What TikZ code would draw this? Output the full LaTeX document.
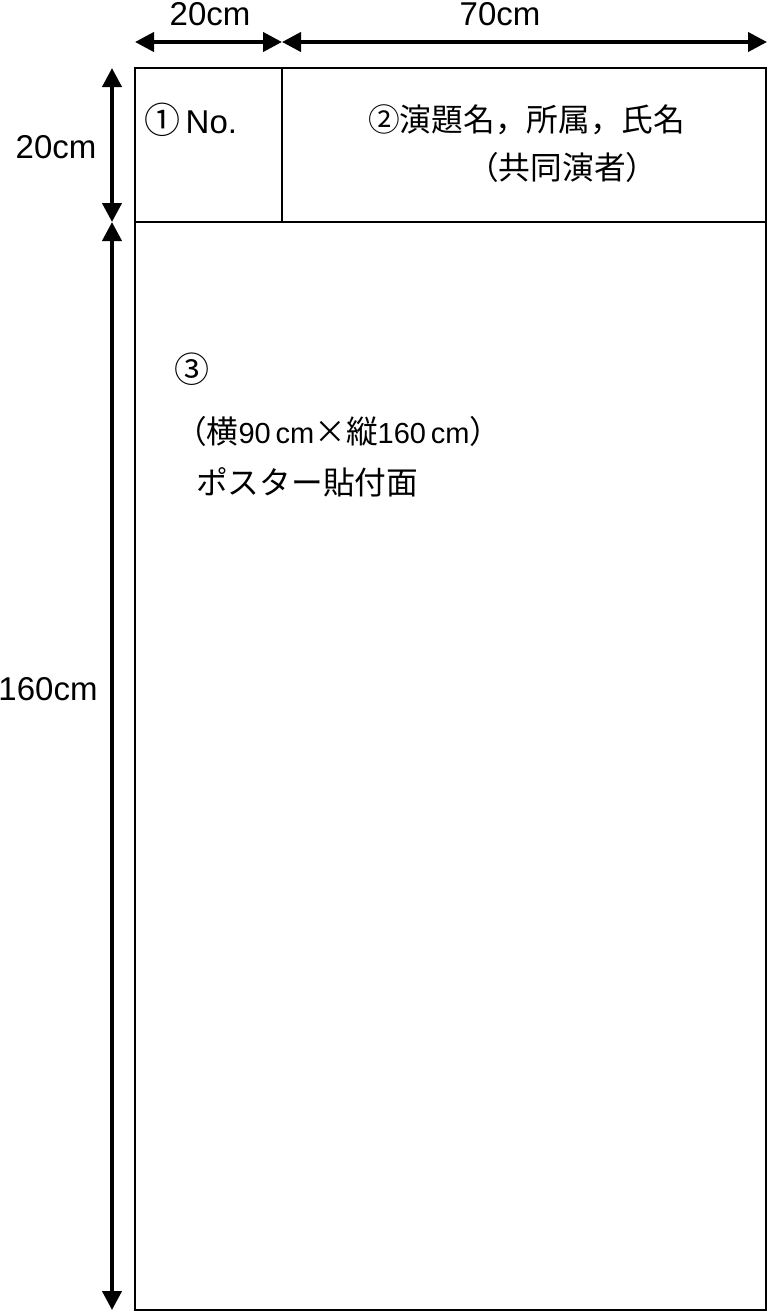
\documentclass[tikz,border=0pt]{standalone}
\usepackage{fontspec}
\setmainfont{Liberation Sans}
\newfontfamily\jp{Noto Sans CJK JP}
\newfontfamily\lat{Liberation Sans}
\usetikzlibrary{arrows.meta}
\begin{document}
\begin{tikzpicture}[x=1pt,y=-1pt,
  dim/.style={line width=4pt,{Triangle[length=19pt,width=19pt]}-{Triangle[length=19pt,width=19pt]}},
  frame/.style={line width=1.3pt},
  lbl/.style={font=\fontsize{33}{38}\selectfont, inner sep=0pt},
  jlbl/.style={font=\fontsize{31.7}{38}\selectfont\jp, inner sep=0pt}]
\useasboundingbox (0,0) rectangle (768,1312);
% frame
\coordinate (TL) at (135,68);
\coordinate (TM) at (282,68);
\coordinate (TR) at (766,68);
\coordinate (ML) at (135,222);
\coordinate (MM) at (282,222);
\coordinate (MR) at (766,222);
\coordinate (BR) at (766,1310);
\draw[frame] (TL) rectangle (BR);
\draw[frame] (ML) -- (MR);
\draw[frame] (TM) -- (MM);
% dimension lines
\coordinate (h1) at (135,42);
\coordinate (h2) at (282,42);
\coordinate (h3) at (767,42);
\coordinate (v1) at (112,68);
\coordinate (v2) at (112,222);
\coordinate (v3) at (112,1310);
\draw[dim] (h1) -- (h2);
\draw[dim] (h2) -- (h3);
\draw[dim] (v1) -- (v2);
\draw[dim] (v2) -- (v3);
% dimension labels
\node[lbl, anchor=base] (d20a) at (210,25) {20cm};
\node[lbl, anchor=base] (d70) at (500,25) {70cm};
\node[lbl, anchor=base] (d20b) at (56,158) {20cm};
\node[lbl, anchor=base] (d160) at (48,700) {160cm};
% box texts
\node[lbl, anchor=base west] (no) at (144,133) {{\jp\fontsize{36}{38}\selectfont ①}\,No.};
\node[jlbl, anchor=base west] (title) at (368,131) {②演題名，所属，氏名};
\node[jlbl, anchor=base west] (coauth) at (467,179) {（共同演者）};
\node[jlbl, anchor=base west] (n3) at (174,382) {\fontsize{35}{38}\selectfont ③};
\node[jlbl, anchor=base west] (size) at (175,443) {（横{\lat\fontsize{29}{38}\selectfont 90\,cm}×縦{\lat\fontsize{29}{38}\selectfont 160\,cm}）};
\node[jlbl, anchor=base west] (area) at (196,494) {ポスター貼付面};
\end{tikzpicture}
\end{document}
